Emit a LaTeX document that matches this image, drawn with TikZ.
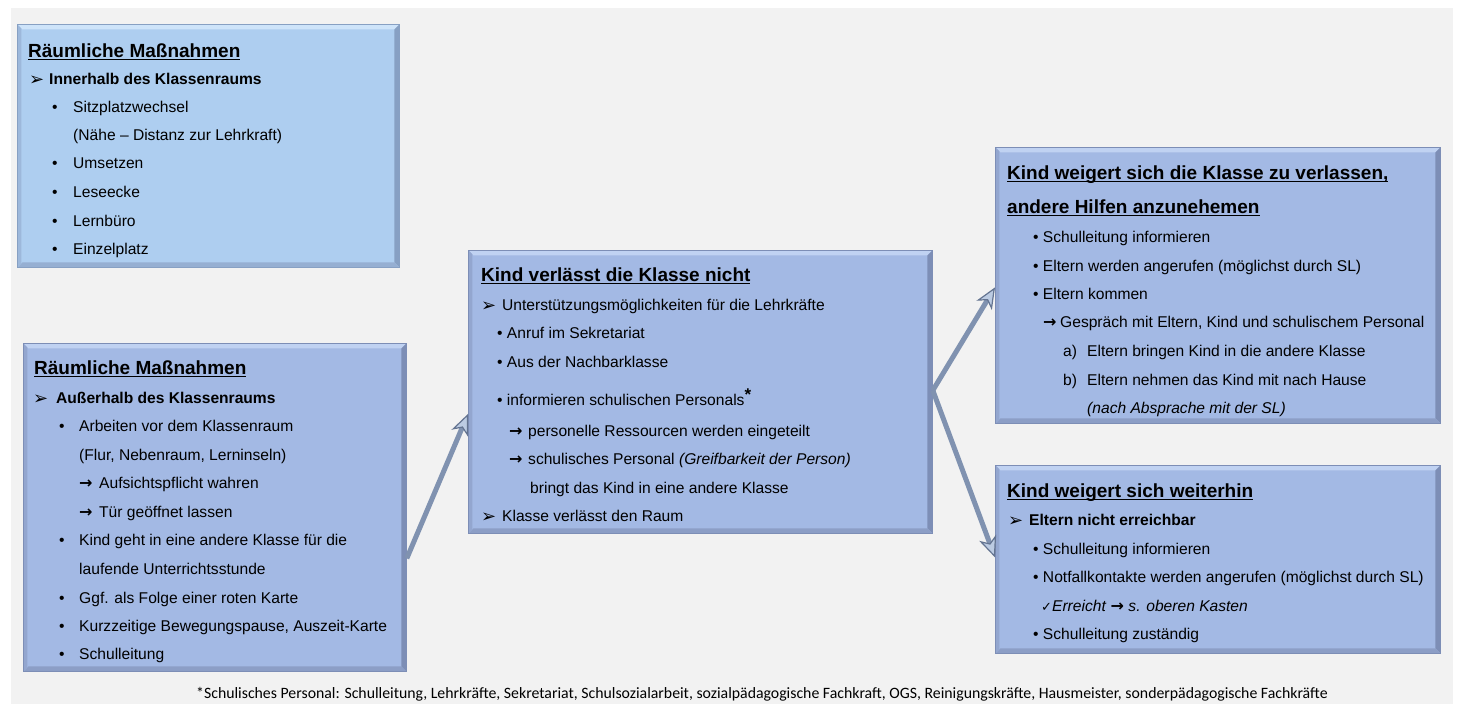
\documentclass[tikz,border=0pt]{standalone}
\usepackage{fontspec}
\setmainfont{Liberation Sans}
\newfontfamily\symf{DejaVu Sans}
\newfontfamily\notefont{Carlito}
\usetikzlibrary{arrows.meta}
\definecolor{bgpanel}{RGB}{242,242,242}
\definecolor{boxA}{RGB}{174,206,240}
\definecolor{boxB}{RGB}{163,185,228}
\definecolor{edgeA}{RGB}{135,160,195}
\definecolor{edgeB}{RGB}{125,142,182}
\definecolor{hiA}{RGB}{206,228,250}
\definecolor{hiB}{RGB}{192,210,242}
\definecolor{loA}{RGB}{150,175,210}
\definecolor{loB}{RGB}{140,158,198}
\definecolor{arrdark}{RGB}{128,146,176}
\definecolor{arrlight}{RGB}{188,203,226}
\definecolor{arredge}{RGB}{100,116,145}
\newcommand\hul[1]{\setbox0\hbox{#1}\rlap{\rule[-2.8pt]{\wd0}{1.3pt}}\box0}
\newcommand\harrow{{\symf\fontsize{18}{18}\selectfont ➢}}
\newcommand\rarr{{\symf\bfseries\fontsize{16}{18}\selectfont →}}
\tikzset{
  boxbase/.style={rectangle, inner sep=0pt, anchor=north west, line width=0.8pt},
  lightbox/.style={boxbase, fill=boxA, draw=edgeA,
    path picture={
      \fill[hiA] (path picture bounding box.north west) -- (path picture bounding box.north east)
        -- ([shift={(-5pt,-5pt)}]path picture bounding box.north east)
        -- ([shift={(5pt,-5pt)}]path picture bounding box.north west) -- cycle;
      \fill[edgeA] (path picture bounding box.north east) -- (path picture bounding box.south east)
        -- ([shift={(-5pt,5pt)}]path picture bounding box.south east)
        -- ([shift={(-5pt,-5pt)}]path picture bounding box.north east) -- cycle;
      \fill[loA] (path picture bounding box.south west) -- (path picture bounding box.south east)
        -- ([shift={(-5pt,5pt)}]path picture bounding box.south east)
        -- ([shift={(5pt,5pt)}]path picture bounding box.south west) -- cycle;
      \fill[loA!70!boxA] (path picture bounding box.north west) -- (path picture bounding box.south west)
        -- ([shift={(4pt,4pt)}]path picture bounding box.south west)
        -- ([shift={(4pt,-4pt)}]path picture bounding box.north west) -- cycle;
    }},
  darkbox/.style={boxbase, fill=boxB, draw=edgeB,
    path picture={
      \fill[hiB] (path picture bounding box.north west) -- (path picture bounding box.north east)
        -- ([shift={(-5pt,-5pt)}]path picture bounding box.north east)
        -- ([shift={(5pt,-5pt)}]path picture bounding box.north west) -- cycle;
      \fill[edgeB] (path picture bounding box.north east) -- (path picture bounding box.south east)
        -- ([shift={(-5pt,5pt)}]path picture bounding box.south east)
        -- ([shift={(-5pt,-5pt)}]path picture bounding box.north east) -- cycle;
      \fill[loB] (path picture bounding box.south west) -- (path picture bounding box.south east)
        -- ([shift={(-5pt,5pt)}]path picture bounding box.south east)
        -- ([shift={(5pt,5pt)}]path picture bounding box.south west) -- cycle;
      \fill[loB!70!boxB] (path picture bounding box.north west) -- (path picture bounding box.south west)
        -- ([shift={(4pt,4pt)}]path picture bounding box.south west)
        -- ([shift={(4pt,-4pt)}]path picture bounding box.north west) -- cycle;
    }},
  ln/.style={anchor=base west, inner sep=0pt, text=black, font=\fontsize{15.6}{18}\selectfont},
  lnb/.style={ln, font=\fontsize{15.6}{18}\selectfont\bfseries},
  hd/.style={anchor=base west, inner sep=0pt, text=black, font=\fontsize{19}{22}\selectfont\bfseries},
  flow/.style={draw=arrdark, line width=5pt,
    -{Stealth[length=21pt, width=18pt, inset=6pt, line width=1.2pt, color=arredge, fill=arrlight]}}
}
\begin{document}
\begin{tikzpicture}[x=1pt, y=-1pt]
\useasboundingbox (0,0) rectangle (1461,704);
\fill[bgpanel] (11,8) rectangle (1453,704);

% boxes
\node[lightbox, minimum width=382pt, minimum height=243pt] (b1) at (17,24) {};
\node[darkbox, minimum width=383pt, minimum height=328pt] (b2) at (23,343) {};
\node[darkbox, minimum width=464pt, minimum height=283pt] (b3) at (468,250) {};
\node[darkbox, minimum width=445pt, minimum height=276pt] (b4) at (995,147) {};
\node[darkbox, minimum width=445pt, minimum height=188pt] (b5) at (995,465) {};

% box 1
\node[hd] (b1h) at (28,57) {\hul{Räumliche Maßnahmen}};
\node[ln] (b1s) at (29,85) {\harrow};
\node[lnb] (b1t) at (49,84) {Innerhalb des Klassenraums};
\node[ln] (b1p1) at (52,112) {•};
\node[ln] (b1l1) at (73,112) {Sitzplatzwechsel};
\node[ln] (b1l2) at (73,140) {(Nähe – Distanz zur Lehrkraft)};
\node[ln] (b1p3) at (52,168) {•};
\node[ln] (b1l3) at (73,168) {Umsetzen};
\node[ln] (b1p4) at (52,197) {•};
\node[ln] (b1l4) at (73,197) {Leseecke};
\node[ln] (b1p5) at (52,226) {•};
\node[ln] (b1l5) at (73,226) {Lernbüro};
\node[ln] (b1p6) at (52,254) {•};
\node[ln] (b1l6) at (73,254) {Einzelplatz};

% box 2
\node[hd] (b2h) at (34,374) {\hul{Räumliche Maßnahmen}};
\node[ln] (b2s) at (33,404) {\harrow};
\node[lnb] (b2t) at (56,403) {Außerhalb des Klassenraums};
\node[ln] (b2p1) at (59,431) {•};
\node[ln] (b2l1) at (79,431) {Arbeiten vor dem Klassenraum};
\node[ln] (b2l2) at (79,460) {(Flur, Nebenraum, Lerninseln)};
\node[ln] (b2a3) at (79,488) {\rarr};
\node[ln] (b2l3) at (99,488) {Aufsichtspflicht wahren};
\node[ln] (b2a4) at (79,517) {\rarr};
\node[ln] (b2l4) at (99,517) {Tür geöffnet lassen};
\node[ln] (b2p5) at (59,545) {•};
\node[ln] (b2l5) at (79,545) {Kind geht in eine andere Klasse für die};
\node[ln] (b2l6) at (79,574) {laufende Unterrichtsstunde};
\node[ln] (b2p7) at (59,603) {•};
\node[ln] (b2l7) at (79,603) {Ggf. als Folge einer roten Karte};
\node[ln] (b2p8) at (59,631) {•};
\node[ln] (b2l8) at (79,631) {Kurzzeitige Bewegungspause, Auszeit-Karte};
\node[ln] (b2p9) at (59,659) {•};
\node[ln] (b2l9) at (79,659) {Schulleitung};

% box 3
\node[hd] (b3h) at (481,281) {\hul{Kind verlässt die Klasse nicht}};
\node[ln] (b3s1) at (481,311) {\harrow};
\node[ln] (b3l1) at (502,310) {Unterstützungsmöglichkeiten für die Lehrkräfte};
\node[ln] (b3l2) at (497,338) {• Anruf im Sekretariat};
\node[ln] (b3l3) at (497,367) {• Aus der Nachbarklasse};
\node[ln] (b3l4) at (497,405) {• informieren schulischen Personals\raisebox{5pt}{\fontsize{17}{17}\selectfont\bfseries *}};
\node[ln] (b3a5) at (509,436) {\rarr};
\node[ln] (b3l5) at (528,436) {personelle Ressourcen werden eingeteilt};
\node[ln] (b3a6) at (509,464) {\rarr};
\node[ln] (b3l6) at (528,464) {schulisches Personal \textit{(Greifbarkeit der Person)}};
\node[ln] (b3l7) at (530,493) {bringt das Kind in eine andere Klasse};
\node[ln] (b3s8) at (481,522) {\harrow};
\node[ln] (b3l8) at (502,521) {Klasse verlässt den Raum};

% box 4
\node[hd] (b4h1) at (1007,179) {\hul{Kind weigert sich die Klasse zu verlassen,}};
\node[hd] (b4h2) at (1007,213) {\hul{andere Hilfen anzunehemen}};
\node[ln] (b4l1) at (1033,242) {• Schulleitung informieren};
\node[ln] (b4l2) at (1033,271) {• Eltern werden angerufen (möglichst durch SL)};
\node[ln] (b4l3) at (1033,299) {• Eltern kommen};
\node[ln] (b4a4) at (1043,327) {\rarr};
\node[ln] (b4l4) at (1060,327) {Gespräch mit Eltern, Kind und schulischem Personal};
\node[ln] (b4m5) at (1063,356) {a)};
\node[ln] (b4l5) at (1087,356) {Eltern bringen Kind in die andere Klasse};
\node[ln] (b4m6) at (1063,385) {b)};
\node[ln] (b4l6) at (1087,385) {Eltern nehmen das Kind mit nach Hause};
\node[ln] (b4l7) at (1087,413) {\textit{(nach Absprache mit der SL)}};

% box 5
\node[hd] (b5h) at (1007,497) {\hul{Kind weigert sich weiterhin}};
\node[ln] (b5s) at (1008,526) {\harrow};
\node[lnb] (b5t) at (1029,525) {Eltern nicht erreichbar};
\node[ln] (b5l1) at (1033,554) {• Schulleitung informieren};
\node[ln] (b5l2) at (1033,582) {• Notfallkontakte werden angerufen (möglichst durch SL)};
\node[ln] (b5l3) at (1041,611) {{\symf\fontsize{13}{15}\selectfont ✓}\textit{Erreicht} \rarr\ \textit{s. oberen Kasten}};
\node[ln] (b5l4) at (1033,639) {• Schulleitung zuständig};

% footnote
\node[anchor=base west, inner sep=0pt, font=\notefont\fontsize{15.8}{17}\selectfont] (fn) at (196,698)
  {*Schulisches Personal: Schulleitung, Lehrkräfte, Sekretariat, Schulsozialarbeit, sozialpädagogische Fachkraft, OGS, Reinigungskräfte, Hausmeister, sonderpädagogische Fachkräfte};

% connectors
\draw[flow] ([yshift=-51pt]b2.east) -- ([yshift=-22pt]b3.west);
\draw[flow] ([yshift=1.5pt]b3.east) -- ([yshift=-2pt]b4.west);
\draw[flow] ([yshift=1.5pt]b3.east) -- ([yshift=2pt]b5.west);
\end{tikzpicture}
\end{document}
